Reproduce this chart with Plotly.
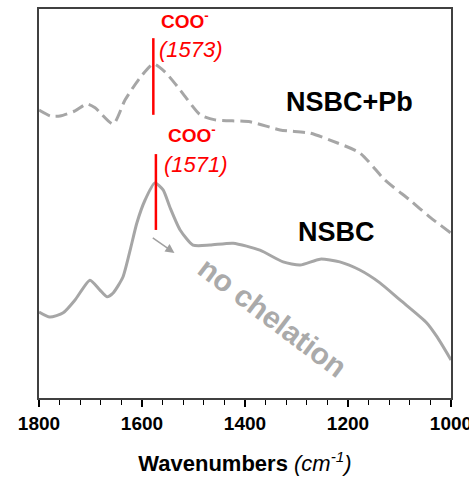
import plotly.graph_objects as go

# NSBC+Pb (dashed) spectrum
WN_PB = [1800, 1778, 1759, 1730, 1707, 1691, 1656, 1633, 1604, 1578, 1555, 1526, 1487, 1458,
         1390, 1332, 1274, 1235, 1177, 1128, 1080, 1041, 1000]
AB_PB = [0.740, 0.725, 0.725, 0.738, 0.756, 0.746, 0.704, 0.766, 0.823, 0.859, 0.838, 0.792,
         0.728, 0.715, 0.710, 0.689, 0.681, 0.663, 0.630, 0.560, 0.509, 0.465, 0.424]

# NSBC (solid) spectrum
WN_N = [1800, 1779, 1753, 1730, 1701, 1682, 1668, 1656, 1637, 1623, 1610, 1594, 1575, 1559,
        1546, 1526, 1501, 1468, 1423, 1371, 1326, 1293, 1254, 1216, 1177, 1138, 1099, 1047,
        1027, 1000]
AB_N = [0.221, 0.208, 0.219, 0.252, 0.303, 0.278, 0.260, 0.270, 0.311, 0.380, 0.450, 0.509,
        0.553, 0.535, 0.491, 0.432, 0.393, 0.393, 0.398, 0.380, 0.350, 0.342, 0.357, 0.350,
        0.329, 0.296, 0.252, 0.193, 0.157, 0.098]

# peak markers
MARK_WN = [1578, 1573]
MARK_Y0 = [0.728, 0.432]
MARK_Y1 = [0.925, 0.627]
PEAK_LABELS = ["(1573)", "(1571)"]

TICKS = [1800, 1600, 1400, 1200, 1000]

GRAY = "#A6A6A6"
RED = "#FF0000"
FONT = "Liberation Sans, Arial"

fig = go.Figure()
fig.add_trace(go.Scatter(x=WN_PB, y=AB_PB, mode="lines",
                         line=dict(color=GRAY, width=3, dash="12px,6px", shape="spline", smoothing=0.6),
                         showlegend=False))
fig.add_trace(go.Scatter(x=WN_N, y=AB_N, mode="lines",
                         line=dict(color=GRAY, width=3, shape="spline", smoothing=0.6),
                         showlegend=False))

for xw, y0, y1 in zip(MARK_WN, MARK_Y0, MARK_Y1):
    fig.add_shape(type="line", x0=xw, x1=xw, y0=y0, y1=y1, xref="x", yref="y",
                  line=dict(color=RED, width=2.5))

red_font = dict(family=FONT, color=RED, size=19)
ital_font = dict(family=FONT, color=RED, size=22)
fig.add_annotation(x=1516, y=0.972, text="<b>COO<sup>-</sup></b>", showarrow=False, font=red_font,
                   xanchor="center", yanchor="middle")
fig.add_annotation(x=1571, y=0.895, text="<i>" + PEAK_LABELS[0] + "</i>", showarrow=False, font=ital_font,
                   xanchor="left", yanchor="middle")
fig.add_annotation(x=1503, y=0.679, text="<b>COO<sup>-</sup></b>", showarrow=False, font=red_font,
                   xanchor="center", yanchor="middle")
fig.add_annotation(x=1561, y=0.599, text="<i>" + PEAK_LABELS[1] + "</i>", showarrow=False, font=ital_font,
                   xanchor="left", yanchor="middle")

fig.add_annotation(x=1198, y=0.761, text="<b>NSBC+Pb</b>", showarrow=False,
                   font=dict(family=FONT, color="black", size=27), xanchor="center", yanchor="middle")
fig.add_annotation(x=1223, y=0.427, text="<b>NSBC</b>", showarrow=False,
                   font=dict(family=FONT, color="black", size=27), xanchor="center", yanchor="middle")

fig.add_annotation(x=1346, y=0.206, text="<b>no chelation</b>", showarrow=False, textangle=37,
                   font=dict(family=FONT, color="#AAAAAA", size=30), xanchor="center", yanchor="middle")
fig.add_annotation(x=1537, y=0.373, ax=1582, ay=0.414, xref="x", yref="y", axref="x", ayref="y",
                   text="", showarrow=True, arrowhead=2, arrowsize=1.2, arrowwidth=1.5, arrowcolor="#A0A0A0")

fig.update_layout(
    width=469, height=479,
    margin=dict(l=39, r=18, t=9, b=81, autoexpand=False),
    paper_bgcolor="white", plot_bgcolor="white",
    xaxis=dict(range=[1800, 1000], tickvals=TICKS, ticks="outside", ticklen=7, tickwidth=1.5, tickcolor="black",
               minor=dict(ticks="outside", ticklen=5, dtick=40, tick0=1800, tickcolor="black", tickwidth=1.2),
               showline=True, linecolor="#404040", linewidth=1.5, mirror=True, showgrid=False, zeroline=False,
               tickfont=dict(family=FONT, size=19, color="black", weight="bold"),
               ticklabeloverflow="allow", automargin=False,
               title=dict(text="<b>Wavenumbers</b> <i>(cm<sup>-1</sup>)</i>", standoff=23,
                          font=dict(family=FONT, size=22, color="black"))),
    xaxis2=dict(range=[1800, 1000], overlaying="x", anchor="y", side="bottom", tickvals=TICKS, ticks="inside",
                ticklen=5, tickwidth=1.5, tickcolor="black", showticklabels=False, showgrid=False,
                zeroline=False, showline=False, automargin=False),
    yaxis=dict(range=[0, 1], showticklabels=False, ticks="", showgrid=False, zeroline=False,
               showline=True, linecolor="#404040", linewidth=1.5, mirror=True, automargin=False),
)

fig.write_html("out.html")
